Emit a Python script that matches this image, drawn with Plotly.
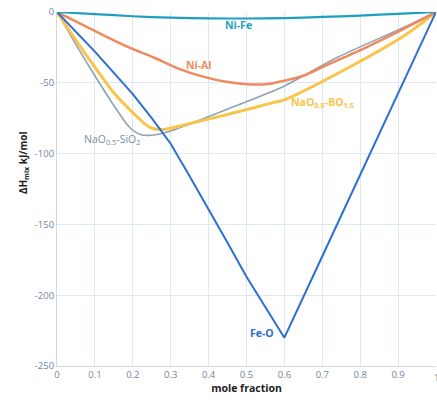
import plotly.graph_objects as go

# Data
nife_x = [0, 0.1, 0.2, 0.3, 0.4, 0.5, 0.6, 0.7, 0.8, 0.9, 1.0]
nife_y = [0, -1.5, -3, -4, -4.5, -4.6, -4.3, -3.5, -2.5, -1.3, 0]

nial_x = [0, 0.06, 0.127, 0.19, 0.258, 0.32, 0.39, 0.45, 0.5, 0.55, 0.6, 0.65, 0.7, 0.75, 0.8, 0.85, 0.9, 0.95, 1.0]
nial_y = [0, -8, -17, -25, -32.5, -40, -46, -49.5, -51, -51, -48.5, -45, -39, -33, -27, -20.5, -14, -7, 0]

nasi_x = [0, 0.05, 0.1, 0.15, 0.19, 0.22, 0.25, 0.3, 0.36, 0.46, 0.59, 0.74, 0.91, 1.0]
nasi_y = [0, -23, -45, -66, -81, -86.5, -87, -84, -78, -67.5, -53.5, -32, -11.5, 0]

nab_x = [0, 0.05, 0.1, 0.15, 0.2, 0.245, 0.28, 0.34, 0.47, 0.57, 0.6, 0.75, 0.92, 1.0]
nab_y = [0, -20, -39, -57, -71, -81.5, -83, -79.5, -71, -64, -62, -42, -16, 0]

feo_x = [0, 0.05, 0.1, 0.15, 0.2, 0.25, 0.3, 0.35, 0.4, 0.45, 0.5, 0.55, 0.6, 0.7, 0.8, 0.9, 1.0]
feo_y = [0, -14, -28, -43, -58, -75, -93, -116, -139, -163, -187, -209, -230, -172.5, -115, -57.5, 0]

x_ticks = [0, 0.1, 0.2, 0.3, 0.4, 0.5, 0.6, 0.7, 0.8, 0.9]
x_labels = ["0", "0.1", "0.2", "0.3", "0.4", "0.5", "0.6", "0.7", "0.8", "0.9"]
x_last_tick = 1
x_last_label = "1"
y_ticks = [0, -50, -100, -150, -200, -250]
y_labels = ["0", "-50", "-100", "-150", "-200", "-250"]

c_nife = "#1f9fbf"
c_nial = "#f08a5c"
c_nasi = "#8ea3b3"
c_nab = "#f8c44c"
c_feo = "#2d6fd2"
tick_color = "#6f86a3"

fig = go.Figure()
fig.add_trace(go.Scatter(x=nasi_x, y=nasi_y, mode="lines",
                         line=dict(color=c_nasi, width=1.6, shape="spline", smoothing=0.8)))
fig.add_trace(go.Scatter(x=nab_x, y=nab_y, mode="lines",
                         line=dict(color=c_nab, width=3, shape="spline", smoothing=0.8)))
fig.add_trace(go.Scatter(x=nial_x, y=nial_y, mode="lines",
                         line=dict(color=c_nial, width=2.5, shape="spline", smoothing=0.8)))
fig.add_trace(go.Scatter(x=feo_x, y=feo_y, mode="lines",
                         line=dict(color=c_feo, width=2)))
fig.add_trace(go.Scatter(x=nife_x, y=nife_y, mode="lines",
                         line=dict(color=c_nife, width=2.2, shape="spline", smoothing=0.8)))

font = "Open Sans, Liberation Sans, sans-serif"
labels = [
    (0.48, -9, "<b>Ni-Fe</b>", c_nife),
    (0.374, -37.5, "<b>Ni-Al</b>", c_nial),
    (0.7, -64, "<b>NaO<sub>0.5</sub>-BO<sub>1.5</sub></b>", c_nab),
    (0.145, -90, "NaO<sub>0.5</sub>-SiO<sub>2</sub>", "#7a8e9e"),
    (0.54, -227, "<b>Fe-O</b>", c_feo),
]
for x, y, t, c in labels:
    fig.add_annotation(x=x, y=y, text=t, showarrow=False,
                       font=dict(family=font, size=10.5, color=c))

# last x tick label (partly cut by the picture edge, as in the reference)
fig.add_annotation(x=x_last_tick, xref="x", y=0, yref="paper", yanchor="top", yshift=-3,
                   text=x_last_label, showarrow=False,
                   font=dict(family=font, size=9.5, color=tick_color))

fig.add_annotation(xref="paper", yref="paper", x=-0.113, y=0.575,
                   text="<b>ΔH<sub>mix</sub> kJ/mol</b>", textangle=-90, showarrow=False,
                   font=dict(family=font, size=10, color="#222222"))

fig.update_layout(
    width=437, height=407,
    margin=dict(l=57, r=1, t=12, b=41),
    paper_bgcolor="white", plot_bgcolor="white",
    showlegend=False,
    xaxis=dict(range=[0, 1], tickvals=x_ticks + [x_last_tick], ticktext=x_labels + [""],
               showgrid=True, gridcolor="#dde8f2", gridwidth=1,
               zeroline=False, showline=True, linecolor="#d0d8e0",
               ticks="", tickfont=dict(family=font, size=9.5, color=tick_color),
               title=dict(text="<b>mole fraction</b>", standoff=4,
                          font=dict(family=font, size=10.5, color="#222222"))),
    yaxis=dict(range=[-250, 0], tickvals=y_ticks, ticktext=y_labels,
               showgrid=True, gridcolor="#dde8f2", gridwidth=1,
               zeroline=False, showline=True, linecolor="#d0d8e0",
               ticks="", tickfont=dict(family=font, size=9.5, color=tick_color)),
)

fig.write_html("out.html")
